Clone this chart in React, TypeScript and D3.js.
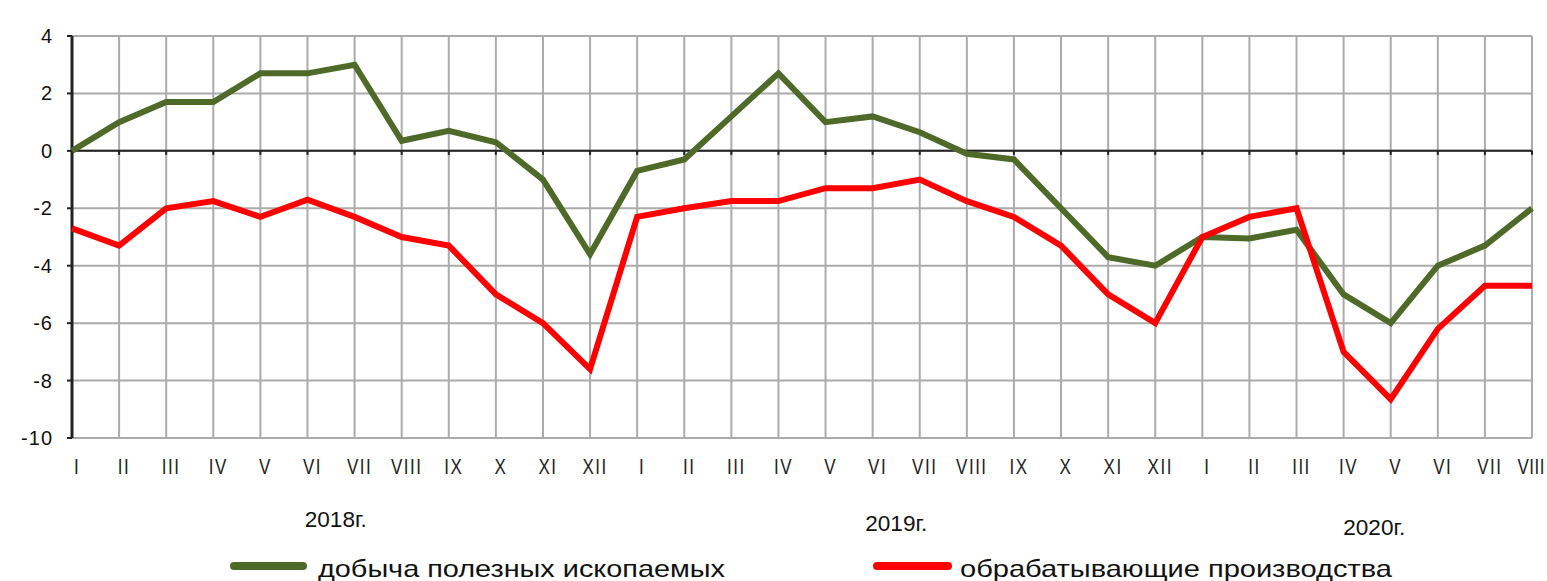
import React from "react";
import * as d3 from "d3";

const months: string[] = [
  "I","II","III","IV","V","VI","VII","VIII","IX","X","XI","XII",
  "I","II","III","IV","V","VI","VII","VIII","IX","X","XI","XII",
  "I","II","III","IV","V","VI","VII","VIII",
];
const mining: number[] = [
  0, 1.0, 1.7, 1.7, 2.7, 2.7, 3.0, 0.35, 0.7, 0.3, -1.0, -3.6,
  -0.7, -0.3, 1.2, 2.7, 1.0, 1.2, 0.65, -0.1, -0.3, -2.0, -3.7, -4.0,
  -3.0, -3.05, -2.75, -5.0, -6.0, -4.0, -3.3, -2.0,
];
const manufacturing: number[] = [
  -2.7, -3.3, -2.0, -1.75, -2.3, -1.7, -2.3, -3.0, -3.3, -5.0, -6.0, -7.6,
  -2.3, -2.0, -1.75, -1.75, -1.3, -1.3, -1.0, -1.75, -2.3, -3.3, -5.0, -6.0,
  -3.0, -2.3, -2.0, -7.0, -8.65, -6.2, -4.7, -4.7,
];
const yTicks: number[] = [4, 2, 0, -2, -4, -6, -8, -10];
const years: { label: string; index: number; dy: number }[] = [
  { label: "2018г.", index: 5.6, dy: 0 },
  { label: "2019г.", index: 17.5, dy: 4 },
  { label: "2020г.", index: 27.65, dy: 8 },
];
const seriesNames: string[] = ["добыча полезных ископаемых", "обрабатывающие производства"];
const seriesColors: string[] = ["#4f6a28", "#ff0000"];

const FONT = "'Liberation Sans', Arial, sans-serif";

export default function App() {
  const x = d3.scaleLinear().domain([0, months.length - 1]).range([72, 1532]);
  const y = d3.scaleLinear().domain([-10, 4]).range([438, 36]);
  const line = d3
    .line<number>()
    .x((_, i) => x(i))
    .y((d) => y(d));
  const last = months.length - 1;

  return (
    <svg
      width={1547}
      height={581}
      style={{ position: "absolute", left: 0, top: 0, background: "#fff" }}
      fontFamily={FONT}
    >
      {/* vertical grid */}
      {months.map((_, i) => (
        <line key={"vg" + i} x1={x(i)} x2={x(i)} y1={y(4)} y2={y(-10)} stroke="#ababab" strokeWidth={2} />
      ))}
      {/* horizontal grid */}
      {yTicks.map((t) => (
        <line key={"hg" + t} x1={x(0)} x2={x(last)} y1={y(t)} y2={y(t)} stroke="#ababab" strokeWidth={2} />
      ))}
      {/* zero line */}
      <line x1={x(0)} x2={x(last)} y1={y(0)} y2={y(0)} stroke="#222" strokeWidth={2} />
      {months.map((_, i) => (
        <line key={"zt" + i} x1={x(i)} x2={x(i)} y1={y(0)} y2={y(0) + 4} stroke="#222" strokeWidth={2} />
      ))}
      {/* left axis */}
      <line x1={x(0)} x2={x(0)} y1={y(4)} y2={y(-10)} stroke="#222" strokeWidth={3} />
      {yTicks.map((t) => (
        <line key={"yt" + t} x1={x(0) - 5} x2={x(0)} y1={y(t)} y2={y(t)} stroke="#222" strokeWidth={2} />
      ))}
      {yTicks.map((t) => (
        <text
          key={"yl" + t}
          x={53}
          y={y(t) + 7}
          textAnchor="end"
          fontSize={20}
          letterSpacing={1}
          fill="#111"
        >
          {t}
        </text>
      ))}
      {/* series */}
      <path d={line(mining) || ""} fill="none" stroke={seriesColors[0]} strokeWidth={6} strokeLinejoin="miter" />
      <path d={line(manufacturing) || ""} fill="none" stroke={seriesColors[1]} strokeWidth={6} strokeLinejoin="miter" />
      {/* x labels */}
      {months.map((m, i) => (
        <text
          key={"xl" + i}
          transform={`translate(${i === last ? 1545 : x(i) + 5},${474}) scale(1,1.3)`}
          textAnchor={i === last ? "end" : "middle"}
          fontSize={17}
          letterSpacing={i === last ? 0.5 : 1.5}
          fill="#222"
        >
          {m}
        </text>
      ))}
      {/* years */}
      {years.map((yr) => (
        <text
          key={yr.label}
          transform={`translate(${x(yr.index)},${527 + yr.dy}) scale(1,1.25)`}
          textAnchor="middle"
          fontSize={17}
          textLength={62}
          lengthAdjust="spacingAndGlyphs"
          fill="#111"
        >
          {yr.label}
        </text>
      ))}
      {/* legend */}
      <line x1={234} x2={303} y1={566} y2={566} stroke={seriesColors[0]} strokeWidth={8} strokeLinecap="round" />
      <text
        transform={`translate(318,577) scale(1,1.3)`}
        fontSize={18}
        textLength={407}
        lengthAdjust="spacingAndGlyphs"
        fill="#111"
      >
        {seriesNames[0]}
      </text>
      <line x1={877} x2={948} y1={566} y2={566} stroke={seriesColors[1]} strokeWidth={8} strokeLinecap="round" />
      <text
        transform={`translate(960,577) scale(1,1.3)`}
        fontSize={18}
        textLength={432}
        lengthAdjust="spacingAndGlyphs"
        fill="#111"
      >
        {seriesNames[1]}
      </text>
    </svg>
  );
}
